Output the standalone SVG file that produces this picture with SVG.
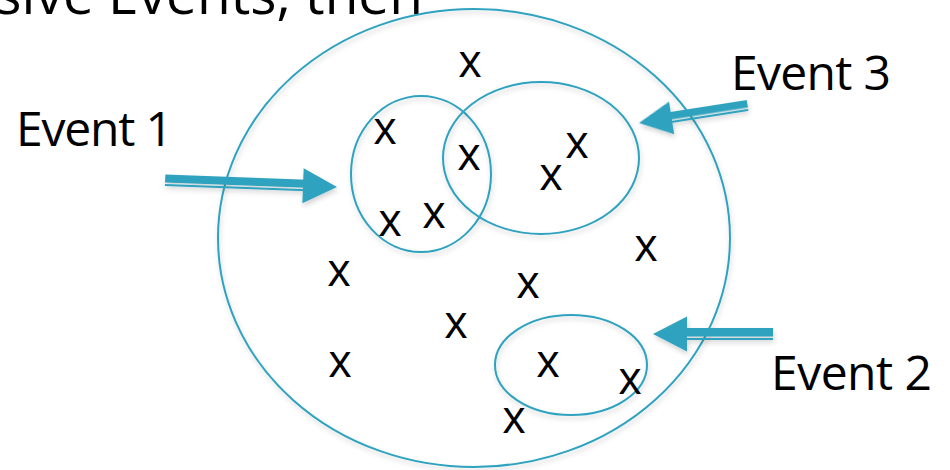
<svg xmlns="http://www.w3.org/2000/svg" width="950" height="470" viewBox="0 0 950 470">
  <defs>
    <filter id="soft" x="-10%" y="-10%" width="120%" height="125%">
      <feDropShadow dx="1" dy="3" stdDeviation="2.5" flood-color="#000" flood-opacity="0.18"/>
    </filter>
  </defs>
  <style>
    .set { fill: none; stroke: #2FA2BF; stroke-width: 2; }
    .arrow { fill: #2FA2BF; }
    .label { font-family: "Open Sans", "DejaVu Sans", sans-serif; font-size: 48px; fill: #000; }
    .heading { font-family: "Open Sans", "DejaVu Sans", sans-serif; font-size: 55px; fill: #000; text-anchor: end; }
    .mark { font-family: "Open Sans", "DejaVu Sans", sans-serif; font-size: 45px; fill: #000; text-anchor: middle; }
  </style>
  <rect width="950" height="470" fill="#fff"/>

  <!-- heading line, running off the top edge -->
  <text class="heading" x="423" y="14">sive Events, then</text>

  <!-- sample space -->
  <g id="sample-space" filter="url(#soft)">
    <ellipse class="set" cx="474" cy="238" rx="256" ry="229"/>
  </g>

  <!-- events -->
  <g id="event-1-set" filter="url(#soft)">
    <ellipse class="set" cx="421" cy="174" rx="70" ry="78"/>
  </g>
  <g id="event-3-set" filter="url(#soft)">
    <ellipse class="set" cx="541" cy="158" rx="98" ry="76"/>
  </g>
  <g id="event-2-set" filter="url(#soft)">
    <ellipse class="set" cx="571" cy="365" rx="76" ry="50"/>
  </g>

  <!-- outcomes -->
  <g id="outcomes">
    <text class="mark" x="470" y="77">x</text>
    <text class="mark" x="385" y="144">x</text>
    <text class="mark" x="469" y="170">x</text>
    <text class="mark" x="577" y="158">x</text>
    <text class="mark" x="551" y="190">x</text>
    <text class="mark" x="390" y="236">x</text>
    <text class="mark" x="434" y="228">x</text>
    <text class="mark" x="646" y="261">x</text>
    <text class="mark" x="339" y="286">x</text>
    <text class="mark" x="528" y="298">x</text>
    <text class="mark" x="456" y="338">x</text>
    <text class="mark" x="340" y="377">x</text>
    <text class="mark" x="548" y="377">x</text>
    <text class="mark" x="630" y="394">x</text>
    <text class="mark" x="514" y="433">x</text>
  </g>

  <!-- labels -->
  <g id="event-1">
    <text class="label" x="16" y="146" textLength="157">Event 1</text>
  </g>
  <g id="event-3">
    <text class="label" x="731" y="90" textLength="160">Event 3</text>
  </g>
  <g id="event-2">
    <text class="label" x="771" y="390" textLength="161">Event 2</text>
  </g>

  <!-- connectors: thick-thin double-shaft block arrows, tip at local origin -->
  <g id="connectors" class="arrow" filter="url(#soft)">
    <g transform="translate(337,187) rotate(2.16)">
      <rect x="-172" y="-6" width="142" height="8"/>
      <rect x="-172" y="3.5" width="142" height="2"/>
      <polygon points="0,0 -34,-17.5 -34,17.5"/>
    </g>
    <g transform="translate(639,123) rotate(171.1) scale(1,-1)">
      <rect x="-110" y="-6" width="82" height="7.5"/>
      <rect x="-110" y="3" width="82" height="2"/>
      <polygon points="0,0 -33,-16.5 -33,16.5"/>
    </g>
    <g transform="translate(653,334) rotate(180) scale(1,-1)">
      <rect x="-120" y="-6" width="90" height="8.5"/>
      <rect x="-120" y="4" width="90" height="2"/>
      <polygon points="0,0 -34,-17.5 -34,17.5"/>
    </g>
  </g>
</svg>
